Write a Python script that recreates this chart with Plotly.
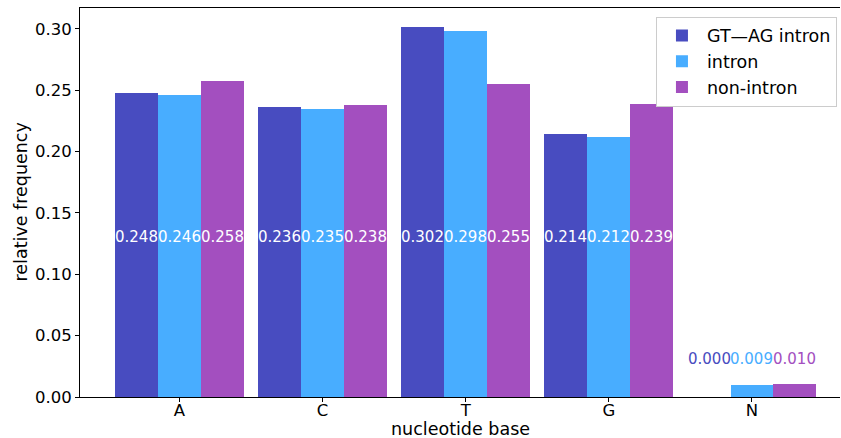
import plotly.graph_objects as go

categories = ["A", "C", "T", "G", "N"]
series_names = ["GT\u2014AG intron", "intron", "non-intron"]
gtag_values = [0.248, 0.236, 0.302, 0.214, 0.000]
intron_values = [0.246, 0.235, 0.298, 0.212, 0.0094]
nonintron_values = [0.258, 0.238, 0.255, 0.239, 0.0104]
colors = ["#484cc0", "#48adff", "#a34fbf"]
y_ticks = [0.00, 0.05, 0.10, 0.15, 0.20, 0.25, 0.30]

all_series = [gtag_values, intron_values, nonintron_values]
xs = list(range(len(categories)))
bar_w = 0.3

fig = go.Figure()
for k, (name, vals, col) in enumerate(zip(series_names, all_series, colors)):
    fig.add_trace(go.Bar(
        x=[i + (k - 1) * bar_w for i in xs], y=vals, width=bar_w, name=name,
        legendgroup=f"g{k}",
        marker=dict(color=col, line=dict(width=0)),
    ))

annotations = []
for k, (vals, col) in enumerate(zip(all_series, colors)):
    for i, v in enumerate(vals):
        if categories[i] == "N":
            ypos, tcol = 0.031, col
        else:
            ypos, tcol = 0.1305, "white"
        annotations.append(dict(
            x=i + (k - 1) * bar_w, y=ypos, xref="x", yref="y",
            text=f"{v:.3f}", showarrow=False,
            font=dict(family="DejaVu Sans", size=15, color=tcol),
        ))

annotations.append(dict(
    x=0.5, y=0, xref="paper", yref="paper", xanchor="center", yanchor="middle",
    yshift=-31.5, text="nucleotide base", showarrow=False,
    font=dict(family="DejaVu Sans", size=17.5, color="black"),
))
annotations.append(dict(
    x=0, y=0.5, xref="paper", yref="paper", xanchor="center", yanchor="middle",
    xshift=-60, text="relative frequency", showarrow=False, textangle=-90,
    font=dict(family="DejaVu Sans", size=17.5, color="black"),
))

fig.update_layout(
    width=841, height=438,
    margin=dict(l=80, r=1, t=8, b=41),
    paper_bgcolor="white", plot_bgcolor="white",
    font=dict(family="DejaVu Sans", size=16, color="black"),
    showlegend=True,
    legend=dict(
        x=0.996, y=0.978, xanchor="right", yanchor="top",
        bordercolor="#cccccc", borderwidth=1, bgcolor="white",
        font=dict(size=17.5), tracegroupgap=0, itemwidth=40,
    ),
    annotations=annotations,
    bargap=0, barmode="overlay",
)
fig.update_xaxes(
    range=[-0.695, 4.615], tickmode="array", tickvals=xs, ticktext=categories,
    showgrid=False, zeroline=False, showline=True, linecolor="black", linewidth=1,
    mirror=True, ticks="outside", ticklen=4, tickcolor="black",
    tickfont=dict(size=16.5), automargin=False, ticklabelstandoff=-6,
)
fig.update_yaxes(
    range=[0, 0.3171], tickmode="array", tickvals=y_ticks,
    ticktext=[f"{t:.2f}" for t in y_ticks],
    showgrid=False, zeroline=False, showline=True, linecolor="black", linewidth=1,
    ticks="outside", ticklen=4, tickcolor="black",
    tickfont=dict(size=16.5), automargin=False,
)

fig.write_html("out.html", config={"displayModeBar": False},
               post_script="document.body.style.margin='0';")
